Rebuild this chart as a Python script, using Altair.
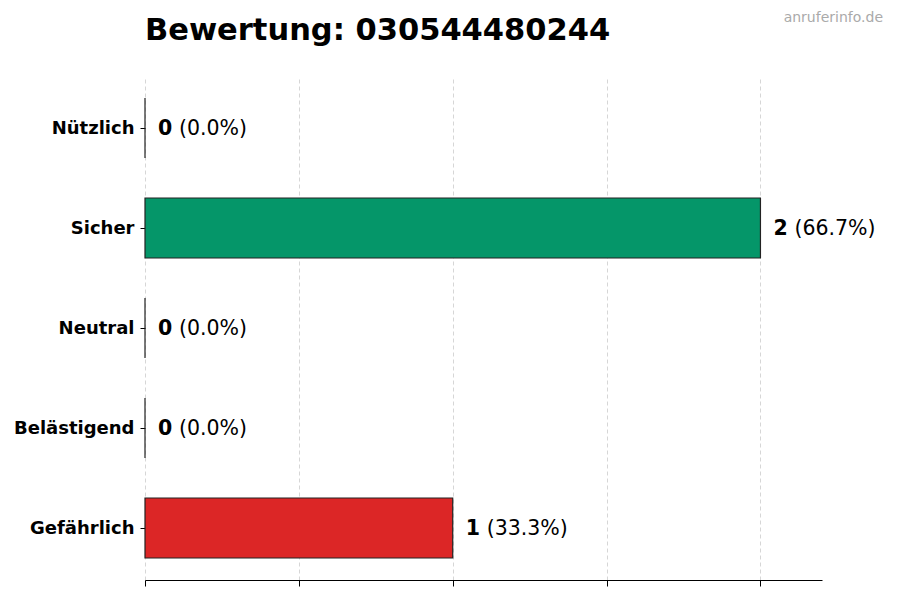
import altair as alt
import pandas as pd

categories = ["Nützlich", "Sicher", "Neutral", "Belästigend", "Gefährlich"]
counts = [0, 2, 0, 0, 1]
colors = ["#2563eb", "#059669", "#9ca3af", "#f59e0b", "#dc2626"]
x_ticks = [0, 0.5, 1, 1.5, 2]
title_text = "Bewertung: 030544480244"
watermark = "anruferinfo.de"

total = sum(counts)
df = pd.DataFrame({
    "cat": categories,
    "count": counts,
    "color": colors,
    "num": [str(c) for c in counts],
    "pct": ["({:.1f}%)".format(100 * c / total) for c in counts],
})

W, H = 677, 504

y_enc = alt.Y("cat:N", sort=categories,
              scale=alt.Scale(paddingInner=0.4, paddingOuter=0.22),
              axis=alt.Axis(title=None, domain=False, ticks=True, tickSize=5,
                            tickColor="black", labelFontWeight="bold",
                            labelFontSize=18, labelColor="black",
                            labelFont="DejaVu Sans", labelPadding=6, labelOffset=1,
                            grid=False))
x_enc = alt.X("count:Q", scale=alt.Scale(domain=[0, 2.2], nice=False, zero=True),
              axis=alt.Axis(title=None, values=x_ticks, labels=False, tickSize=6,
                            tickColor="black", domainColor="black", grid=True,
                            gridColor="#cccccc", gridDash=[4, 3], gridWidth=0.8))

base = alt.Chart(df)

bars = base.mark_bar(stroke="#222222", strokeWidth=1.2, opacity=1).encode(
    x=x_enc, y=y_enc,
    color=alt.Color("color:N", scale=None),
)

num = base.mark_text(align="left", baseline="middle", dx=13, dy=1, fontSize=20.5,
                     fontWeight="bold", font="DejaVu Sans", color="black").encode(
    x="count:Q", y=alt.Y("cat:N", sort=categories), text="num:N")

pct = base.mark_text(align="left", baseline="middle", dx=34, dy=1, fontSize=20.5,
                     font="DejaVu Sans", color="black").encode(
    x="count:Q", y=alt.Y("cat:N", sort=categories), text="pct:N")

wm = alt.Chart(pd.DataFrame({"t": [watermark]})).mark_text(
    align="right", baseline="middle", fontSize=14, font="DejaVu Sans",
    color="#aaaaaa").encode(x=alt.value(738), y=alt.value(-58), text="t:N")

ttl = alt.Chart(pd.DataFrame({"t": [title_text]})).mark_text(
    align="left", baseline="alphabetic", fontSize=30.5, font="DejaVu Sans",
    fontWeight="bold", color="black").encode(
    x=alt.value(0), y=alt.value(-36), text="t:N")

chart = alt.layer(bars, num, pct, wm, ttl).properties(
    width=W, height=H,
    background="white",
    autosize=alt.AutoSizeParams(type="none"),
    padding={"left": 137, "top": 68, "right": 70, "bottom": 12},
).configure_view(stroke="transparent", strokeWidth=0)

chart.save("out.html", embed_options={"renderer": "svg", "actions": False})
